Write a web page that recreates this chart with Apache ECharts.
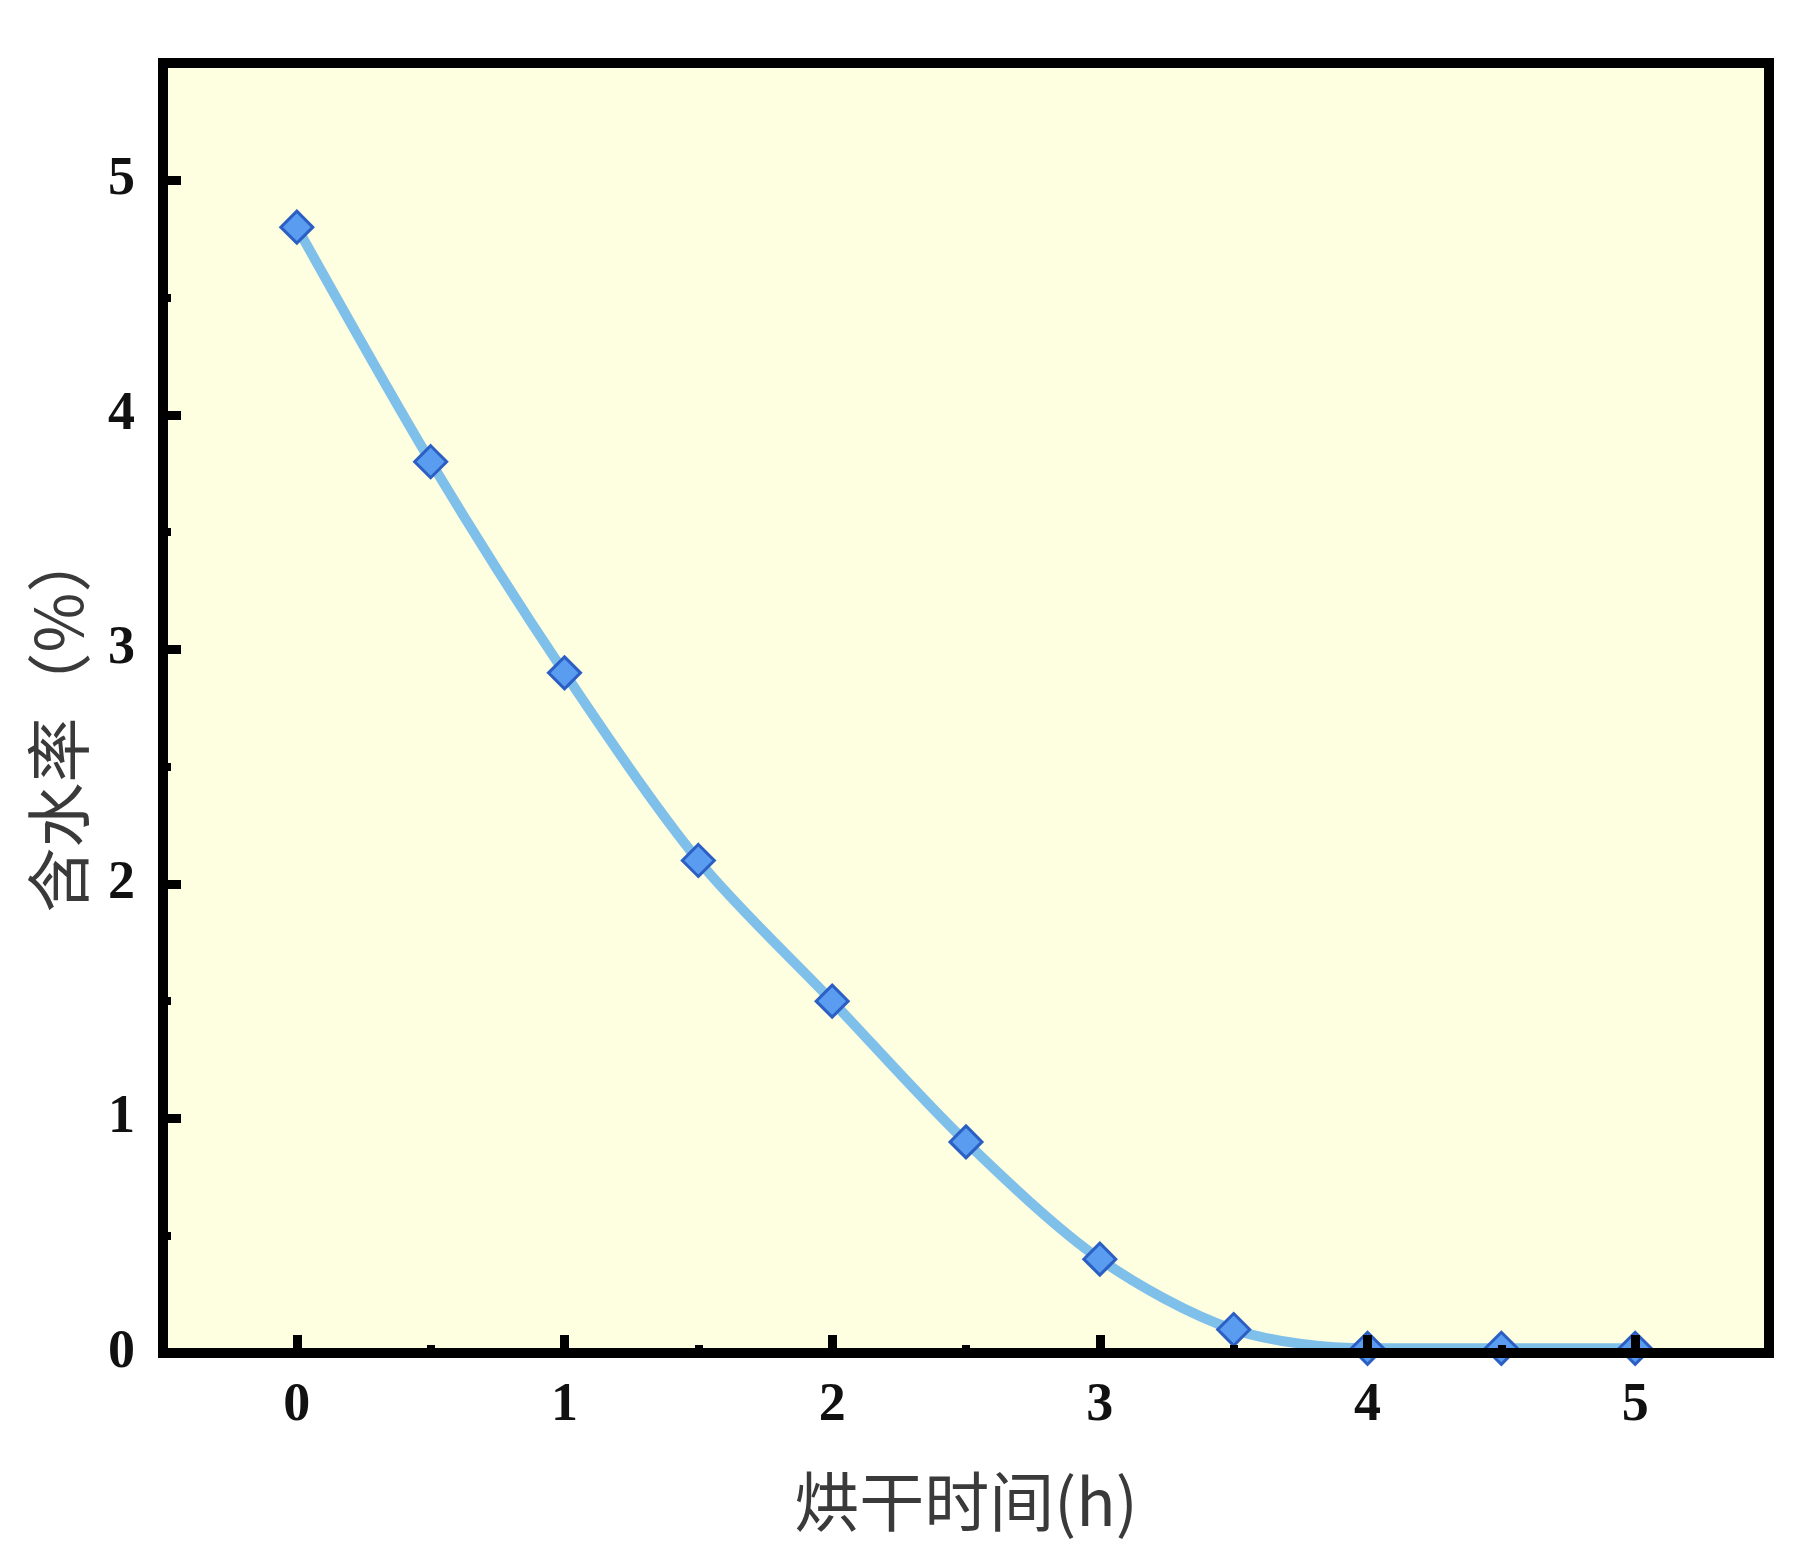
<!DOCTYPE html>
<html>
<head>
<meta charset="utf-8">
<script src="https://cdn.jsdelivr.net/npm/echarts@6/dist/echarts.min.js"></script>
<style>
html,body{margin:0;padding:0;background:#fff;}
#chart{width:1804px;height:1564px;}
</style>
</head>
<body>
<div id="chart"></div>
<script>
// Data
const dryingTime = [0, 0.5, 1, 1.5, 2, 2.5, 3, 3.5, 4, 4.5, 5];
const moisture = [4.8, 3.8, 2.9, 2.1, 1.5, 0.9, 0.4, 0.1, 0.02, 0.02, 0.02];
const xMajorTicks = [0, 1, 2, 3, 4, 5];
const xMinorTicks = [0.5, 1.5, 2.5, 3.5, 4.5];
const yMajorTicks = [0, 1, 2, 3, 4, 5];
const yMinorTicks = [0.5, 1.5, 2.5, 3.5, 4.5];
const xName = '烘干时间(h)';
const yName = '含水率（%）';

const chart = echarts.init(document.getElementById('chart'));
const points = dryingTime.map((t, i) => [t, moisture[i]]);

const labelFont = {fontFamily: 'Liberation Serif', fontWeight: 'bold', fontSize: 54, color: '#111'};
const titleFont = {fontFamily: '"Noto Sans CJK SC"', fontWeight: 'normal', fontSize: 65, color: '#3a3a3a'};
const axisLine = {show: true, onZero: false, lineStyle: {color: '#000', width: 10, cap: 'square'}};
const noLine = {show: false, onZero: false};

chart.setOption({
  backgroundColor: '#ffffff',
  animation: false,
  grid: {left: 163, right: 35, top: 63, bottom: 211, show: true, backgroundColor: '#fefee1', borderWidth: 0},
  xAxis: [
    {
      type: 'value', min: -0.5, max: 5.5, position: 'bottom', z: 5,
      axisLine: axisLine,
      axisTick: {show: true, inside: true, length: 18, customValues: xMajorTicks, lineStyle: {color: '#000', width: 9}},
      axisLabel: Object.assign({margin: 26, customValues: xMajorTicks}, labelFont),
      splitLine: {show: false},
      name: xName, nameLocation: 'middle', nameGap: 116, nameTextStyle: titleFont
    },
    {
      type: 'value', min: -0.5, max: 5.5, position: 'bottom', z: 5,
      axisLine: noLine,
      axisTick: {show: true, inside: true, length: 8, customValues: xMinorTicks, lineStyle: {color: '#000', width: 8}},
      axisLabel: {show: false}, splitLine: {show: false}
    },
    {
      type: 'value', min: -0.5, max: 5.5, position: 'top', z: 5,
      axisLine: axisLine, axisTick: {show: false}, axisLabel: {show: false}, splitLine: {show: false}
    }
  ],
  yAxis: [
    {
      type: 'value', min: 0, max: 5.5, position: 'left', z: 5,
      axisLine: axisLine,
      axisTick: {show: true, inside: true, length: 18, customValues: yMajorTicks, lineStyle: {color: '#000', width: 9}},
      axisLabel: Object.assign({margin: 28, customValues: yMajorTicks}, labelFont),
      splitLine: {show: false},
      name: yName, nameLocation: 'middle', nameGap: 72,
      nameTextStyle: Object.assign({padding: [0, 24, 0, 0]}, titleFont)
    },
    {
      type: 'value', min: 0, max: 5.5, position: 'left', z: 5,
      axisLine: noLine,
      axisTick: {show: true, inside: true, length: 8, customValues: yMinorTicks, lineStyle: {color: '#000', width: 8}},
      axisLabel: {show: false}, splitLine: {show: false}
    },
    {
      type: 'value', min: 0, max: 5.5, position: 'right', z: 5,
      axisLine: axisLine, axisTick: {show: false}, axisLabel: {show: false}, splitLine: {show: false}
    }
  ],
  series: [{
    type: 'line',
    data: points,
    smooth: 0.3,
    symbol: 'diamond',
    symbolSize: 32,
    lineStyle: {color: '#7fc0ea', width: 10},
    itemStyle: {color: '#5a9cf0', borderColor: '#2b5fc4', borderWidth: 3},
    z: 3
  }]
});
</script>
</body>
</html>
